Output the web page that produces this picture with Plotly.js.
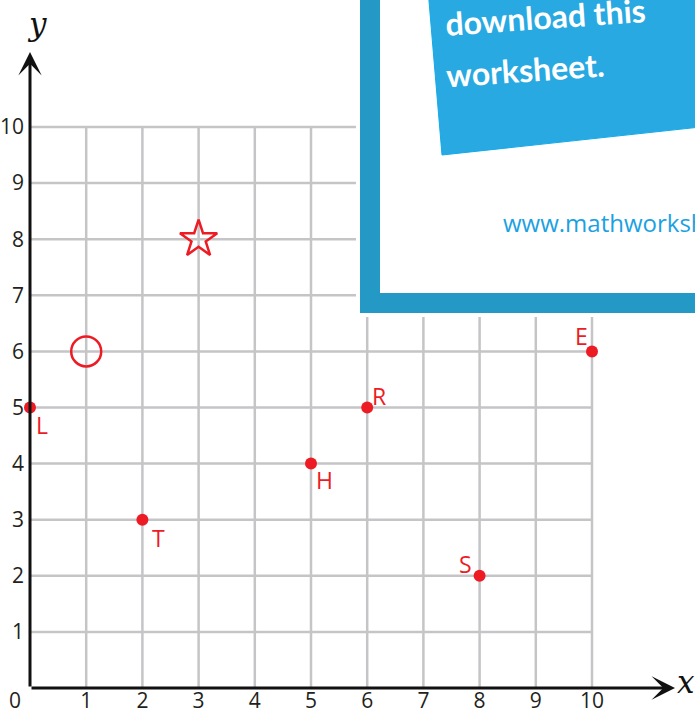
<!DOCTYPE html>
<html><head><meta charset="utf-8">
<script src="https://cdn.plot.ly/plotly-3.0.1.min.js"></script>
<style>html,body{margin:0;padding:0;background:#fff;}</style>
</head><body><div id="chart" style="width:695px;height:709px;"></div>
<script>
// ---- data ----
const tickValues = [1,2,3,4,5,6,7,8,9,10];
const tickLabels = ['1','2','3','4','5','6','7','8','9','10'];
const pointNames = ['L','T','H','R','S','E'];
const pointX = [0,2,5,6,8,10];
const pointY = [5,3,4,5,2,6];
const circleX = [1], circleY = [6];
const starX = [3], starY = [8];

// label offsets in pixels (style only)
const labelShiftX = [12, 16, 13, 12, -14, -11];
const labelShiftY = [-17, -18, -16, 12, 12, 15];

const RED = '#ed1c24';
const GRID = '#c5c5c8';
const INK = '#231f20';
const W = 695, H = 709, ML = 30, MB = 21;
const X = p => (p - ML) / (W - ML);
const Y = p => (H - MB - p) / (H - MB);

const xMax = (W - ML) / 56.2;
const yMax = (H - MB) / 56.1;

const shapes = [];
tickValues.forEach(v => {
  shapes.push({type:'line', xref:'x', yref:'y', x0:v, x1:v, y0:0, y1:10, line:{color:GRID, width:2.5}, layer:'below'});
  shapes.push({type:'line', xref:'x', yref:'y', x0:0, x1:10, y0:v, y1:v, line:{color:GRID, width:2.5}, layer:'below'});
});
// overlay worksheet box
shapes.push({type:'rect', xref:'paper', yref:'paper', x0:X(356), x1:X(710), y0:Y(317), y1:Y(-10), fillcolor:'#ffffff', line:{width:0}, layer:'above'});
shapes.push({type:'rect', xref:'paper', yref:'paper', x0:X(360), x1:X(710), y0:Y(313), y1:Y(-10), fillcolor:'#2499c5', line:{width:0}, layer:'above'});
shapes.push({type:'rect', xref:'paper', yref:'paper', x0:X(380), x1:X(710), y0:Y(293), y1:Y(-10), fillcolor:'#ffffff', line:{width:0}, layer:'above'});
shapes.push({type:'path', xref:'paper', yref:'paper',
  path:`M${X(428.5)},${Y(-5)} L${X(442)},${Y(155)} L${X(710)},${Y(126)} L${X(710)},${Y(-5)} Z`,
  fillcolor:'#29a9e1', line:{color:'#12aaea', width:1}, layer:'above'});

const annotations = [
  // axes with arrows
  {x:(675-ML)/56.2, y:0, ax:0, ay:0, xref:'x', yref:'y', axref:'x', ayref:'y', text:'', showarrow:true, arrowhead:3, arrowsize:1.3, arrowwidth:3, arrowcolor:'#111'},
  {x:0, y:(H-MB-52)/56.1, ax:0, ay:0, xref:'x', yref:'y', axref:'x', ayref:'y', text:'', showarrow:true, arrowhead:3, arrowsize:1.3, arrowwidth:3, arrowcolor:'#111'},
  {x:X(15), y:Y(700), xref:'paper', yref:'paper', xanchor:'center', yanchor:'middle', text:'0', showarrow:false, font:{family:'Open Sans', size:21, color:INK}},
  {x:X(686), y:Y(682), xref:'paper', yref:'paper', xanchor:'center', yanchor:'middle', text:'<i>x</i>', showarrow:false, font:{family:'DejaVu Serif', size:31, color:'#111'}},
  {x:X(37), y:Y(24), xref:'paper', yref:'paper', xanchor:'center', yanchor:'middle', text:'<i>y</i>', showarrow:false, font:{family:'DejaVu Serif', size:31, color:'#111'}},
  // overlay texts
  {x:X(545), y:Y(16), xref:'paper', yref:'paper', xanchor:'center', yanchor:'middle', text:'<b>download this</b>', showarrow:false, textangle:-4, font:{family:'Lato', size:32, color:'#ffffff'}},
  {x:X(525), y:Y(70), xref:'paper', yref:'paper', xanchor:'center', yanchor:'middle', text:'<b>worksheet.</b>', showarrow:false, textangle:-4, font:{family:'Lato', size:32, color:'#ffffff'}},
  {x:X(501), y:Y(222), xref:'paper', yref:'paper', xanchor:'left', yanchor:'middle', text:'www.mathworksheets4kids.com', showarrow:false, font:{family:'Open Sans', size:24, color:'#1ba1e2'}}
];
pointNames.forEach((n, i) => {
  annotations.push({x:pointX[i], y:pointY[i], xref:'x', yref:'y', text:n, showarrow:false,
    xanchor:'center', yanchor:'middle', xshift:labelShiftX[i], yshift:labelShiftY[i],
    font:{family:'Open Sans', size:23, color:RED}});
});

const traces = [
  {x:pointX, y:pointY, mode:'markers', type:'scatter', marker:{color:RED, size:12}, cliponaxis:false, hoverinfo:'none'},
  {x:circleX, y:circleY, mode:'markers', type:'scatter', marker:{symbol:'circle-open', size:30, color:RED, line:{width:2.5, color:RED}}, cliponaxis:false, hoverinfo:'none'},
  {x:starX, y:starY, mode:'markers', type:'scatter', marker:{symbol:'star-open', size:28, color:RED, line:{width:2.5, color:RED}}, cliponaxis:false, hoverinfo:'none'}
];

const layout = {
  width:W, height:H, showlegend:false,
  margin:{l:ML, r:0, t:0, b:MB, pad:0},
  paper_bgcolor:'#fff', plot_bgcolor:'#fff',
  xaxis:{range:[0,xMax], showgrid:false, zeroline:false, showline:false, ticks:'', tickvals:tickValues, ticktext:tickLabels,
         ticklabelstandoff:-2, tickfont:{family:'Open Sans', size:21, color:INK}, fixedrange:true},
  yaxis:{range:[0,yMax], showgrid:false, zeroline:false, showline:false, ticks:'', tickvals:tickValues, ticktext:tickLabels,
         ticklabelstandoff:5, tickfont:{family:'Open Sans', size:21, color:INK}, fixedrange:true},
  shapes:shapes, annotations:annotations
};
Plotly.newPlot('chart', traces, layout, {displayModeBar:false, staticPlot:true});
</script></body></html>
